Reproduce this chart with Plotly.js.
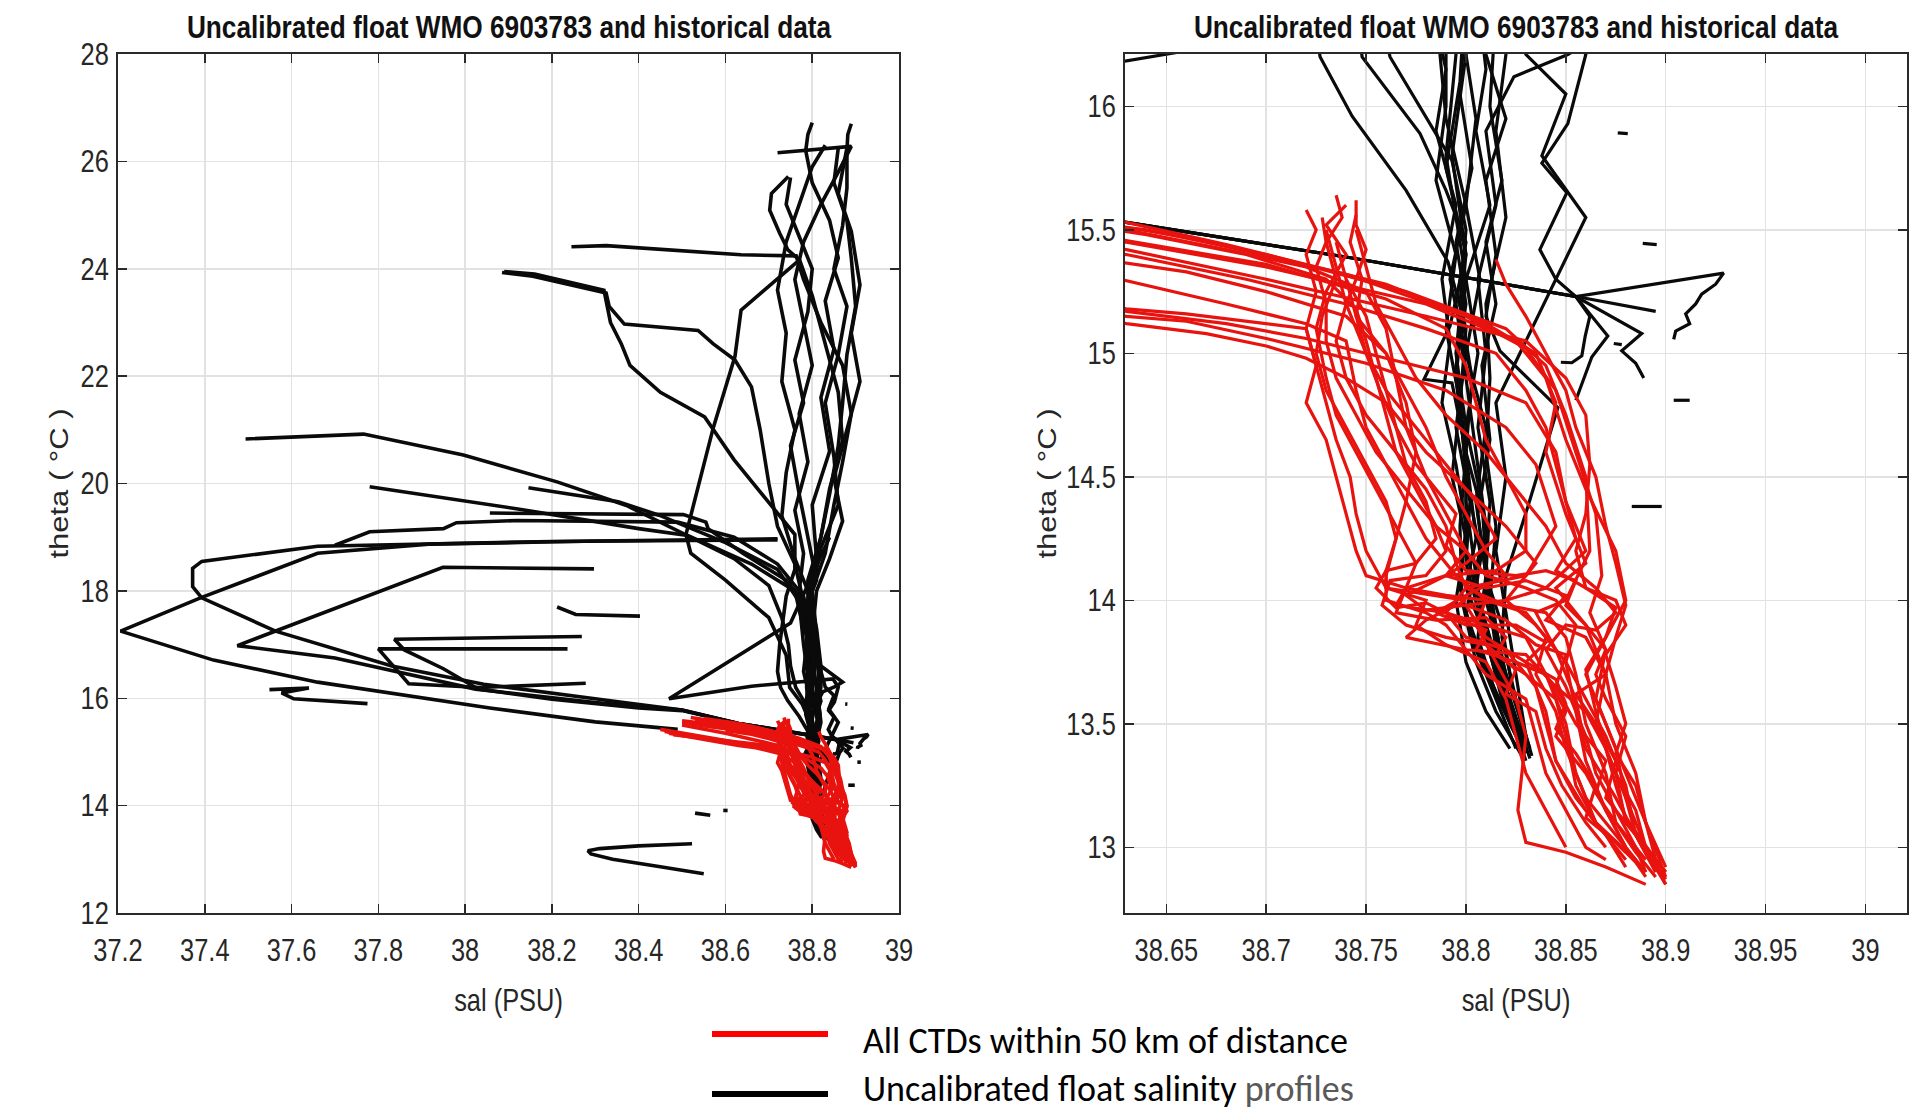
<!DOCTYPE html>
<html><head><meta charset="utf-8">
<script src="https://cdn.plot.ly/plotly-3.0.1.min.js"></script>
<style>html,body{margin:0;padding:0;background:#fff}#chart{width:1915px;height:1115px}</style>
</head><body><div id="chart"></div>
<script>
// ---------- Tick labels ----------
const leftSalTicks = [37.2,37.4,37.6,37.8,38,38.2,38.4,38.6,38.8,39];
const leftSalLabels = ['37.2','37.4','37.6','37.8','38','38.2','38.4','38.6','38.8','39'];
const leftThetaTicks = [12,14,16,18,20,22,24,26,28];
const rightSalTicks = [38.65,38.7,38.75,38.8,38.85,38.9,38.95,39];
const rightSalLabels = ['38.65','38.7','38.75','38.8','38.85','38.9','38.95','39'];
const rightThetaTicks = [13,13.5,14,14.5,15,15.5,16];
const rightThetaLabels = ['13','13.5','14','14.5','15','15.5','16'];

// ---------- Uncalibrated float profiles: [salinity, theta] ----------
const f01 = [[38.80,26.72],[38.79,26.5],[38.785,26.2],[38.80,25.6],[38.84,24.9],[38.86,24.2],[38.83,23.4],[38.85,22.5],[38.82,21.6],[38.84,20.6],[38.80,19.6],[38.81,18.6],[38.79,17.8],[38.795,17.0],[38.80,16.4],[38.797,16.05],[38.803,15.75],[38.795,15.45],[38.80,15.2],[38.795,14.95],[38.80,14.6],[38.805,14.25],[38.80,14.05],[38.81,13.85],[38.82,13.6],[38.83,13.35]];
const f02 = [[38.89,26.7],[38.882,26.5],[38.88,26.2],[38.88,25.5],[38.87,24.8],[38.85,24.0],[38.88,23.3],[38.86,22.4],[38.83,21.5],[38.85,20.5],[38.86,19.6],[38.82,18.8],[38.80,18.0],[38.81,17.2],[38.805,16.5],[38.81,16.15],[38.805,15.9],[38.812,15.6],[38.80,15.3],[38.806,15.0],[38.80,14.7],[38.808,14.4],[38.81,14.15],[38.815,13.9],[38.82,13.65],[38.832,13.36]];
const f03 = [[38.72,26.16],[38.89,26.28],[38.86,25.8],[38.82,25.2],[38.78,24.5],[38.76,23.8],[38.78,23.0],[38.80,22.2],[38.77,21.3],[38.79,20.4],[38.76,19.5],[38.78,18.7],[38.77,18.0],[38.79,17.2],[38.78,16.5],[38.79,16.15],[38.785,15.9],[38.795,15.6],[38.788,15.3],[38.792,15.05],[38.788,14.8],[38.795,14.55],[38.80,14.3],[38.797,14.05],[38.805,13.8],[38.815,13.6],[38.825,13.4]];
const f04 = [[38.745,25.72],[38.706,25.4],[38.702,25.09],[38.725,24.66],[38.744,24.35],[38.771,24.16],[38.80,23.5],[38.83,22.6],[38.86,21.7],[38.87,20.8],[38.84,19.9],[38.82,19.0],[38.79,18.2],[38.79,17.4],[38.80,16.7],[38.80,16.21],[38.793,15.8],[38.80,15.4],[38.792,15.11],[38.779,14.895],[38.793,14.88],[38.80,14.6],[38.797,14.3],[38.798,14.0],[38.805,13.75],[38.815,13.55],[38.828,13.37]];
const f05 = [[38.245,24.41],[38.325,24.43],[38.636,24.26],[38.763,24.24],[38.78,23.8],[38.82,23.0],[38.87,22.2],[38.89,21.3],[38.87,20.4],[38.85,19.6],[38.83,18.7],[38.80,18.0],[38.79,17.3],[38.80,16.6],[38.81,16.21],[38.82,15.95],[38.81,15.7],[38.815,15.4],[38.81,15.15],[38.817,15.01],[38.846,14.78],[38.831,14.38],[38.82,14.1],[38.818,13.85],[38.825,13.6],[38.83,13.42]];
const f06 = [[38.085,23.93],[38.156,23.86],[38.325,23.55],[38.332,23.3],[38.367,22.97],[38.537,22.85],[38.572,22.6],[38.622,22.3],[38.66,21.8],[38.68,21.0],[38.70,20.0],[38.72,19.2],[38.76,18.5],[38.78,17.8],[38.80,17.0],[38.79,16.5],[38.787,16.21],[38.79,15.95],[38.80,15.6],[38.792,15.3],[38.80,15.0],[38.795,14.7],[38.802,14.4],[38.80,14.15],[38.808,13.9],[38.815,13.7],[38.822,13.5],[38.83,13.38]];
const f07 = [[38.09,23.95],[38.16,23.9],[38.32,23.6],[38.335,23.0],[38.36,22.6],[38.38,22.2],[38.45,21.7],[38.552,21.24],[38.62,20.44],[38.705,19.58],[38.76,19.05],[38.76,18.4],[38.74,17.9],[38.725,17.0],[38.72,16.5],[38.727,16.2],[38.743,15.96],[38.77,15.66],[38.791,15.37],[38.80,15.1],[38.797,14.8],[38.80,14.5],[38.807,14.2],[38.80,13.95],[38.81,13.72],[38.825,13.45]];
const f08 = [[38.77,24.16],[38.636,23.23],[38.622,22.37],[38.572,21.04],[38.509,19.05],[38.52,18.7],[38.60,18.2],[38.70,17.5],[38.74,16.8],[38.745,16.4],[38.748,16.2],[38.777,15.89],[38.79,15.66],[38.80,15.45],[38.795,15.2],[38.80,14.9],[38.805,14.6],[38.81,14.3],[38.805,14.05],[38.812,13.85],[38.82,13.62],[38.83,13.4]];
const f09 = [[37.494,20.83],[37.766,20.92],[37.996,20.53],[38.212,20.03],[38.372,19.59],[38.494,19.1],[38.62,18.6],[38.70,18.1],[38.73,17.5],[38.745,17.0],[38.75,16.6],[38.762,16.2],[38.793,15.78],[38.80,15.5],[38.797,15.2],[38.803,14.9],[38.80,14.6],[38.81,14.3],[38.81,14.0],[38.817,13.78],[38.828,13.5]];
const f10 = [[37.78,19.94],[38.118,19.53],[38.4,19.16],[38.513,19.03],[38.66,18.5],[38.76,18.0],[38.78,17.3],[38.82,16.6],[38.87,16.3],[38.851,16.21],[38.824,16.12],[38.81,15.9],[38.815,15.6],[38.806,15.3],[38.81,15.0],[38.806,14.7],[38.812,14.4],[38.81,14.1],[38.818,13.9],[38.823,13.65],[38.833,13.37]];
const f11 = [[38.72,18.95],[38.2,18.92],[37.66,18.83],[37.393,18.55],[37.372,18.42],[37.372,18.08],[37.393,17.87],[37.563,17.25],[37.831,16.6],[38.043,16.26],[38.339,15.95],[38.50,15.78],[38.63,15.53],[38.74,15.39],[38.855,15.23],[38.929,15.325],[38.925,15.28],[38.918,15.24],[38.915,15.2],[38.91,15.16],[38.912,15.12],[38.905,15.09],[38.904,15.057]];
const f12 = [[38.72,18.97],[38.3,18.93],[37.916,18.87],[37.66,18.7],[37.39,17.87],[37.206,17.25],[37.42,16.71],[37.66,16.3],[38.057,15.82],[38.3,15.56],[38.49,15.42]];
const f13 = [[38.297,18.41],[37.949,18.44],[37.475,16.98],[37.7,16.75],[38.024,16.17],[38.3,15.92],[38.50,15.78],[38.63,15.53],[38.74,15.39],[38.855,15.23],[38.895,15.17]];
const f14 = [[38.269,17.15],[37.837,17.1],[37.86,16.9],[37.95,16.55],[38.03,16.17],[38.2,15.98],[38.4,15.82],[38.50,15.77],[38.63,15.53],[38.74,15.39],[38.855,15.23],[38.888,15.08],[38.878,15.01],[38.885,14.96],[38.889,14.90]];
const f15 = [[38.236,16.92],[37.80,16.92],[37.87,16.27],[38.034,16.2],[38.278,16.28]];
const f16 = [[38.84,19.0],[38.80,18.3],[38.75,17.4],[38.47,15.99],[38.62,16.17],[38.66,16.225],[38.848,16.36],[38.86,16.21],[38.851,15.93],[38.838,15.77],[38.8505,15.65],[38.837,15.42],[38.845,15.3],[38.855,15.23],[38.871,15.07],[38.863,14.985],[38.855,14.81]];
const f17 = [[38.86,26.25],[38.85,25.6],[38.88,24.9],[38.89,24.2],[38.9,23.3],[38.88,22.4],[38.87,21.5],[38.86,20.7],[38.84,19.8],[38.82,19.0],[38.80,18.3],[38.80,17.5],[38.81,16.8],[38.80,16.21],[38.805,15.95],[38.80,15.6],[38.807,15.3],[38.80,15.0],[38.81,14.7],[38.805,14.4],[38.81,14.1],[38.815,13.8],[38.825,13.5]];
const f18 = [[38.75,25.7],[38.74,25.2],[38.77,24.6],[38.80,24.0],[38.79,23.2],[38.76,22.3],[38.78,21.5],[38.75,20.7],[38.77,19.8],[38.79,19.0],[38.81,18.2],[38.78,17.6],[38.79,16.9],[38.795,16.21],[38.79,15.8],[38.80,15.3],[38.795,14.9],[38.80,14.55],[38.80,14.2],[38.808,13.95],[38.815,13.7],[38.825,13.5]];
const f19 = [[38.83,26.3],[38.80,25.9],[38.77,25.2],[38.74,24.5],[38.72,23.6],[38.74,22.8],[38.73,21.9],[38.76,21.0],[38.74,20.2],[38.73,19.4],[38.76,18.6],[38.79,18.0],[38.81,17.3],[38.82,16.6],[38.82,16.21],[38.815,15.9],[38.82,15.55],[38.81,15.2],[38.812,14.9],[38.81,14.6],[38.815,14.3],[38.812,14.0],[38.82,13.7],[38.832,13.4]];
const f20 = [[38.88,26.25],[38.86,25.4],[38.89,24.7],[38.91,23.7],[38.89,22.8],[38.91,21.9],[38.88,21.0],[38.85,20.1],[38.87,19.3],[38.84,18.6],[38.81,18.0],[38.80,17.2],[38.82,16.5],[38.83,16.21],[38.85,16.05],[38.838,15.8],[38.86,15.55],[38.845,15.3],[38.83,15.05],[38.815,14.8],[38.82,14.5],[38.815,14.2],[38.82,13.95],[38.825,13.7],[38.83,13.45]];
const f21 = [[38.146,19.92],[38.353,19.66],[38.447,19.41],[38.60,18.9],[38.72,18.4],[38.77,17.8],[38.78,17.0],[38.79,16.4],[38.79,16.0],[38.785,15.7],[38.795,15.4],[38.79,15.1],[38.797,14.8],[38.793,14.5],[38.80,14.25],[38.795,14.0],[38.80,13.75],[38.81,13.55],[38.822,13.4]];
const f22 = [[38.057,19.45],[38.503,19.42],[38.555,19.28],[38.56,19.16],[38.64,18.7],[38.74,18.2],[38.80,17.6],[38.81,16.9],[38.815,16.4],[38.812,16.0],[38.818,15.7],[38.81,15.45],[38.815,15.2],[38.808,14.95],[38.812,14.65],[38.806,14.35],[38.81,14.1],[38.806,13.85],[38.815,13.62],[38.827,13.42]];
const f23 = [[37.70,18.85],[37.78,19.1],[37.95,19.16],[37.98,19.27],[38.12,19.31],[38.49,19.28],[38.62,19.0],[38.72,18.5],[38.78,17.9],[38.80,17.2],[38.80,16.5],[38.797,16.1],[38.79,15.75],[38.80,15.4],[38.795,15.0],[38.80,14.7],[38.80,14.4],[38.805,14.1],[38.81,13.85],[38.818,13.6],[38.83,13.4]];
// short fragments and isolated points of the float data
const m01 = [[38.212,17.70],[38.226,17.66],[38.255,17.56],[38.403,17.53]];
const m02 = [[37.549,16.16],[37.64,16.19],[37.577,16.10],[37.605,15.99],[37.775,15.9]];
const m03 = [[38.523,13.29],[38.40,13.25],[38.31,13.2],[38.283,13.16],[38.29,13.1],[38.34,13.0],[38.45,12.86],[38.55,12.73]];
const m04 = [[38.53,13.86],[38.565,13.82]];
const m05 = [[38.595,13.91],[38.605,13.91]];
const m06 = [[38.876,15.893],[38.881,15.89]];
const m07 = [[38.8885,15.445],[38.8955,15.44]];
const m08 = [[38.874,15.04],[38.878,15.035]];
const m09 = [[38.904,14.81],[38.912,14.81]];
const m10 = [[38.883,14.38],[38.898,14.38]];
const m11 = [[38.8475,14.964],[38.853,14.962],[38.858,14.99],[38.8597,15.07],[38.862,15.15],[38.855,15.23]];

// ---------- CTD profiles within 50 km: [salinity, theta] ----------
const r01 = [[38.52,15.64],[38.60,15.55],[38.66,15.47],[38.74,15.32],[38.80,15.15],[38.83,15.02],[38.845,14.85],[38.855,14.6],[38.865,14.35],[38.868,14.1],[38.862,13.95],[38.87,13.8],[38.865,13.6],[38.875,13.4],[38.88,13.2],[38.89,13.0],[38.9,12.85]];
const r02 = [[38.53,15.6],[38.64,15.5],[38.70,15.4],[38.77,15.25],[38.82,15.1],[38.84,14.95],[38.85,14.75],[38.86,14.5],[38.862,14.2],[38.85,14.0],[38.835,13.95],[38.845,13.8],[38.855,13.6],[38.86,13.4],[38.875,13.2],[38.885,13.05],[38.895,12.9]];
const r03 = [[38.55,15.62],[38.63,15.53],[38.68,15.44],[38.76,15.28],[38.81,15.12],[38.835,15.0],[38.845,14.8],[38.84,14.6],[38.85,14.35],[38.86,14.15],[38.845,14.05],[38.86,13.9],[38.87,13.7],[38.865,13.5],[38.875,13.3],[38.88,13.1],[38.9,12.9]];
const r04 = [[38.50,15.55],[38.63,15.45],[38.70,15.35],[38.78,15.2],[38.825,15.05],[38.84,14.9],[38.85,14.65],[38.86,14.45],[38.875,14.2],[38.88,14.0],[38.87,13.85],[38.86,13.7],[38.87,13.5],[38.88,13.3],[38.89,13.1],[38.895,12.95]];
const r05 = [[38.45,15.42],[38.55,15.28],[38.63,15.17],[38.68,15.12],[38.72,15.06],[38.76,14.98],[38.80,14.9],[38.83,14.8],[38.845,14.6],[38.85,14.4],[38.86,14.2],[38.84,14.05],[38.82,14.0],[38.835,13.9],[38.85,13.75],[38.855,13.55],[38.86,13.35],[38.87,13.15],[38.88,13.0],[38.89,12.88]];
const r06 = [[38.46,15.38],[38.56,15.25],[38.63,15.15],[38.66,15.13],[38.70,15.06],[38.72,15.02],[38.75,14.96],[38.79,14.85],[38.82,14.7],[38.835,14.55],[38.845,14.3],[38.83,14.1],[38.80,14.05],[38.79,13.95],[38.81,13.9],[38.83,13.85],[38.84,13.7],[38.85,13.5],[38.855,13.3],[38.865,13.1],[38.885,12.95]];
const r07 = [[38.47,15.35],[38.63,15.12],[38.67,15.08],[38.70,15.03],[38.72,14.98],[38.74,14.9],[38.76,14.8],[38.78,14.6],[38.80,14.45],[38.82,14.3],[38.835,14.15],[38.82,14.0],[38.80,13.98],[38.81,13.85],[38.83,13.75],[38.84,13.55],[38.845,13.35],[38.86,13.15],[38.88,12.95]];
const r08 = [[38.735,15.64],[38.738,15.55],[38.73,15.45],[38.735,15.3],[38.728,15.15],[38.725,15.0],[38.73,14.85],[38.74,14.7],[38.75,14.55],[38.76,14.4],[38.765,14.25],[38.76,14.12],[38.76,14.0],[38.78,13.95],[38.79,13.9],[38.80,13.8],[38.81,13.7],[38.83,13.6],[38.835,13.45],[38.84,13.3],[38.85,13.15],[38.86,13.0],[38.87,12.95]];
const r09 = [[38.74,15.6],[38.73,15.52],[38.74,15.4],[38.73,15.25],[38.725,15.1],[38.73,14.9],[38.735,14.75],[38.745,14.6],[38.755,14.45],[38.765,14.3],[38.775,14.15],[38.77,14.05],[38.765,13.98],[38.79,13.95],[38.80,13.85],[38.82,13.8],[38.835,13.65],[38.84,13.5],[38.845,13.35],[38.855,13.2],[38.87,13.05],[38.88,12.92]];
const r10 = [[38.72,15.58],[38.725,15.5],[38.72,15.4],[38.725,15.25],[38.72,15.1],[38.725,14.95],[38.73,14.8],[38.735,14.65],[38.742,14.5],[38.745,14.35],[38.75,14.2],[38.76,14.05],[38.78,14.0],[38.775,13.9],[38.79,13.82],[38.81,13.75],[38.82,13.6],[38.825,13.45],[38.83,13.3],[38.84,13.15],[38.85,13.0]];
const r11 = [[38.745,15.62],[38.745,15.52],[38.75,15.42],[38.745,15.3],[38.74,15.2],[38.735,15.05],[38.74,14.9],[38.75,14.75],[38.765,14.6],[38.78,14.45],[38.79,14.3],[38.795,14.15],[38.80,14.05],[38.82,13.98],[38.84,13.95],[38.85,13.85],[38.855,13.7],[38.86,13.5],[38.87,13.3],[38.875,13.1],[38.89,12.95]];
const r12 = [[38.728,15.55],[38.73,15.45],[38.725,15.35],[38.73,15.2],[38.73,15.05],[38.735,14.9],[38.745,14.75],[38.755,14.6],[38.77,14.45],[38.785,14.3],[38.80,14.2],[38.81,14.1],[38.83,14.05],[38.845,14.0],[38.855,13.9],[38.85,13.75],[38.86,13.6],[38.87,13.45],[38.88,13.25],[38.885,13.05],[38.9,12.85]];
const r13 = [[38.48,15.32],[38.63,15.18],[38.66,15.16],[38.70,15.12],[38.72,15.1],[38.725,14.95],[38.72,14.8],[38.73,14.65],[38.735,14.5],[38.74,14.35],[38.745,14.2],[38.75,14.1],[38.77,14.05],[38.79,14.02],[38.81,14.0],[38.83,13.95],[38.84,13.85],[38.835,13.7],[38.845,13.55],[38.85,13.4],[38.86,13.2],[38.875,13.05],[38.89,12.9]];
const r14 = [[38.815,15.38],[38.82,15.28],[38.83,15.15],[38.84,15.0],[38.85,14.85],[38.855,14.7],[38.865,14.5],[38.87,14.3],[38.875,14.15],[38.88,13.98],[38.875,13.85],[38.87,13.7],[38.875,13.5],[38.885,13.3],[38.89,13.1],[38.9,12.88]];
const r15 = [[38.57,15.55],[38.63,15.5],[38.68,15.42],[38.72,15.35],[38.75,15.25],[38.76,15.1],[38.765,14.9],[38.77,14.7],[38.78,14.5],[38.79,14.35],[38.80,14.2],[38.79,14.1],[38.77,14.05],[38.765,13.95],[38.785,13.92],[38.81,13.93],[38.82,13.85],[38.815,13.78],[38.83,13.7],[38.845,13.6],[38.85,13.45],[38.855,13.25],[38.865,13.1],[38.88,12.98]];
const r16 = [[38.56,15.58],[38.64,15.48],[38.69,15.4],[38.73,15.3],[38.745,15.18],[38.75,15.05],[38.755,14.9],[38.76,14.75],[38.765,14.6],[38.775,14.45],[38.785,14.3],[38.79,14.2],[38.78,14.1],[38.762,14.08],[38.758,13.98],[38.77,13.9],[38.79,13.85],[38.81,13.82],[38.825,13.72],[38.82,13.62],[38.835,13.55],[38.84,13.4],[38.848,13.25],[38.86,13.1],[38.87,13.0]];
const r17 = [[38.50,15.5],[38.60,15.35],[38.68,15.2],[38.72,15.12],[38.74,15.05],[38.745,14.85],[38.75,14.7],[38.76,14.55],[38.77,14.4],[38.78,14.25],[38.795,14.1],[38.81,14.0],[38.805,13.9],[38.815,13.75],[38.825,13.6],[38.83,13.45],[38.828,13.3],[38.826,13.15],[38.83,13.02],[38.85,12.98],[38.87,12.92],[38.89,12.85]];
const r18 = [[38.54,15.5],[38.63,15.42],[38.70,15.3],[38.78,15.15],[38.83,15.05],[38.85,14.9],[38.86,14.75],[38.862,14.55],[38.86,14.35],[38.855,14.2],[38.86,14.05],[38.875,13.97],[38.87,13.85],[38.86,13.72],[38.865,13.55],[38.87,13.4],[38.875,13.25],[38.88,13.12],[38.895,12.95]];
const r19 = [[38.60,15.4],[38.66,15.33],[38.70,15.25],[38.74,15.15],[38.76,15.0],[38.77,14.8],[38.775,14.6],[38.77,14.4],[38.765,14.25],[38.76,14.1],[38.76,14.05],[38.80,14.0],[38.78,13.92],[38.77,13.85],[38.80,13.8],[38.83,13.78],[38.845,13.65],[38.86,13.55],[38.87,13.4],[38.88,13.2],[38.885,13.05],[38.90,12.9]];
const r20 = [[38.745,15.5],[38.75,15.35],[38.755,15.2],[38.765,15.05],[38.775,14.9],[38.79,14.75],[38.81,14.6],[38.825,14.45],[38.84,14.3],[38.85,14.15],[38.865,14.05],[38.875,13.95],[38.865,13.88],[38.85,13.9],[38.84,13.8],[38.85,13.65],[38.86,13.45],[38.865,13.3],[38.875,13.15],[38.885,13.0],[38.89,12.9]];
const r21 = [[38.73,15.5],[38.735,15.35],[38.74,15.2],[38.75,15.0],[38.76,14.85],[38.775,14.7],[38.79,14.55],[38.805,14.4],[38.815,14.25],[38.80,14.15],[38.79,14.1],[38.81,14.05],[38.83,14.08],[38.85,14.02],[38.84,13.92],[38.86,13.85],[38.87,13.7],[38.855,13.62],[38.865,13.5],[38.875,13.35],[38.87,13.2],[38.885,13.05],[38.895,12.9]];
const r22 = [[38.50,15.58],[38.62,15.47],[38.70,15.36],[38.76,15.22],[38.79,15.1],[38.80,14.95],[38.805,14.8],[38.81,14.65],[38.82,14.5],[38.83,14.35],[38.83,14.2],[38.815,14.12],[38.79,14.1],[38.77,14.02],[38.78,13.96],[38.80,13.98],[38.82,13.92],[38.835,13.82],[38.85,13.78],[38.845,13.65],[38.855,13.5],[38.87,13.35],[38.865,13.22],[38.875,13.1],[38.885,12.98],[38.895,12.88]];
const r23 = [[38.735,15.45],[38.74,15.3],[38.75,15.15],[38.755,15.0],[38.76,14.85],[38.765,14.7],[38.77,14.55],[38.78,14.4],[38.785,14.25],[38.775,14.15],[38.76,14.12],[38.755,14.05],[38.765,13.97],[38.78,13.99],[38.795,13.93],[38.81,13.88],[38.805,13.8],[38.825,13.75],[38.84,13.7],[38.85,13.55],[38.845,13.45],[38.86,13.3],[38.87,13.15],[38.88,13.0]];
const r24 = [[38.52,15.52],[38.63,15.4],[38.69,15.3],[38.74,15.2],[38.78,15.1],[38.815,15.0],[38.83,14.85],[38.84,14.7],[38.845,14.55],[38.85,14.4],[38.855,14.25],[38.845,14.12],[38.86,14.05],[38.875,14.0],[38.88,13.9],[38.87,13.78],[38.875,13.65],[38.88,13.5],[38.875,13.38],[38.885,13.25],[38.89,13.1],[38.9,12.92]];
const r25 = [[38.74,15.3],[38.745,15.15],[38.76,15.0],[38.77,14.85],[38.78,14.7],[38.79,14.5],[38.80,14.35],[38.81,14.2],[38.82,14.1],[38.80,14.02],[38.785,13.95],[38.80,13.9],[38.825,13.9],[38.84,13.83],[38.83,13.75],[38.845,13.68],[38.85,13.58],[38.845,13.48],[38.855,13.38],[38.865,13.25],[38.86,13.12],[38.875,13.02],[38.89,12.9]];
const r26 = [[38.745,15.56],[38.742,15.45],[38.748,15.3],[38.745,15.15],[38.75,15.0],[38.757,14.85],[38.765,14.7],[38.775,14.55],[38.785,14.45],[38.795,14.35],[38.79,14.22],[38.80,14.12],[38.825,14.1],[38.84,14.12],[38.855,14.08],[38.85,13.98],[38.86,13.9],[38.87,13.8],[38.865,13.7],[38.87,13.6],[38.88,13.45],[38.875,13.3],[38.885,13.15],[38.89,13.0],[38.9,12.87]];

const floatProfiles = [f01,f02,f03,f04,f05,f06,f07,f08,f09,f10,f11,f12,f13,f14,f15,f16,f17,f18,f19,f20,f21,f22,f23,m01,m02,m03,m04,m05,m06,m07,m08,m09,m10,m11];
const ctdProfiles = [r01,r02,r03,r04,r05,r06,r07,r08,r09,r10,r11,r12,r13,r14,r15,r16,r17,r18,r19,r20,r21,r22,r23,r24,r25,r26];

const titleText = 'Uncalibrated float WMO 6903783 and historical data';
const legendCtd = 'All CTDs within 50 km of distance';
const legendFloat = 'Uncalibrated float salinity <span style="color:#595959">profiles</span>';

// ---------- build ----------
function toXY(profiles){
  const x=[], y=[];
  profiles.forEach(p => { p.forEach(pt => { x.push(pt[0]); y.push(pt[1]); }); x.push(null); y.push(null); });
  return {x, y};
}
const fl = toXY(floatProfiles);
const ct = toXY(ctdProfiles);
const BLACK = '#0a0a0a', RED = '#e8130f';
const traces = [];
[['x','y',3.6],['x2','y2',3.2]].forEach(([xa,ya,w]) => {
  traces.push({type:'scatter', mode:'lines', x:fl.x, y:fl.y, xaxis:xa, yaxis:ya, connectgaps:false,
    line:{color:BLACK, width:w}, hoverinfo:'skip', showlegend:false});
  traces.push({type:'scatter', mode:'lines', x:ct.x, y:ct.y, xaxis:xa, yaxis:ya, connectgaps:false,
    line:{color:RED, width:w}, hoverinfo:'skip', showlegend:false});
});

const SANS = '"Liberation Sans", Arial, Helvetica, sans-serif';
const tickFont = {family:SANS, size:31, color:'#262626'};
const common = {
  showgrid:true, gridcolor:'#e2e2e2', gridwidth:1.5, zeroline:false,
  showline:true, linecolor:'#2a2a2a', linewidth:2, mirror:'ticks',
  ticks:'inside', ticklen:9, tickwidth:1.5, tickcolor:'#2a2a2a',
  tickfont:tickFont, automargin:false, fixedrange:true
};
const xTitle = {text:'sal (PSU)', font:{family:SANS, size:31, color:'#262626'}, standoff:22};
const yTitle = {text:'theta ( °C )', font:{family:SANS, size:31, color:'#262626'}, standoff:0};

const layout = {
  width:1915, height:1115,
  margin:{l:118, r:8, t:54, b:202},
  paper_bgcolor:'#fff', plot_bgcolor:'#fff',
  showlegend:false,
  xaxis:Object.assign({}, common, {domain:[0,0.43656], range:[37.2,39], tickmode:'array', tickvals:leftSalTicks, ticktext:leftSalLabels, ticklabelstandoff:9, title:xTitle, anchor:'y'}),
  yaxis:Object.assign({}, common, {domain:[0,1], range:[12,28], tickmode:'array', tickvals:leftThetaTicks, ticklabelstandoff:1, title:yTitle, anchor:'x'}),
  xaxis2:Object.assign({}, common, {domain:[0.56289,1], range:[38.6293,39.0208], tickmode:'array', tickvals:rightSalTicks, ticktext:rightSalLabels, ticklabelstandoff:9, title:xTitle, anchor:'y2'}),
  yaxis2:Object.assign({}, common, {domain:[0,1], range:[12.734,16.212], tickmode:'array', tickvals:rightThetaTicks, ticktext:rightThetaLabels, ticklabelstandoff:1, title:yTitle, anchor:'x2'}),
  annotations:[
    {text:titleText, xref:'paper', yref:'paper', x:0.2183, y:1.0314, xanchor:'center', yanchor:'middle', showarrow:false,
     font:{family:SANS, size:32, color:'#111', weight:'bold'}},
    {text:titleText, xref:'paper', yref:'paper', x:0.7814, y:1.0314, xanchor:'center', yanchor:'middle', showarrow:false,
     font:{family:SANS, size:32, color:'#111', weight:'bold'}},
    {text:legendCtd, xref:'paper', yref:'paper', x:0.4153, y:(913-1041)/859, xanchor:'left', yanchor:'middle', showarrow:false,
     font:{family:'Carlito, Lato, "Open Sans", sans-serif', size:36, color:'#000'}},
    {text:legendFloat, xref:'paper', yref:'paper', x:0.4153, y:(913-1089)/859, xanchor:'left', yanchor:'middle', showarrow:false,
     font:{family:'Carlito, Lato, "Open Sans", sans-serif', size:36, color:'#000'}}
  ],
  shapes:[
    {type:'line', xref:'paper', yref:'paper', x0:(712-118)/1789, x1:(828-118)/1789, y0:(913-1034)/859, y1:(913-1034)/859, line:{color:'#ff0000', width:6}},
    {type:'line', xref:'paper', yref:'paper', x0:(712-118)/1789, x1:(828-118)/1789, y0:(913-1094)/859, y1:(913-1094)/859, line:{color:'#000', width:6}}
  ]
};

// The source figure was exported horizontally compressed: mimic it by narrowing the text glyphs.
const SQUISH = 0.82;
function squish(el, mode){
  const bb = el.getBBox();
  const cx = mode === 'right' ? bb.x + bb.width : bb.x + bb.width / 2;
  const t = el.getAttribute('transform') || '';
  el.setAttribute('transform', t + ' translate(' + cx + ',0) scale(' + SQUISH + ',1) translate(' + (-cx) + ',0)');
}
function squishRotated(el, dx){
  const X = parseFloat(el.getAttribute('x')) || 0;
  const t = el.getAttribute('transform') || '';
  el.setAttribute('transform', 'translate(' + dx + ',0) translate(' + X + ',0) scale(' + SQUISH + ',1) translate(' + (-X) + ',0) ' + t);
}

Plotly.newPlot('chart', traces, layout, {staticPlot:true, displayModeBar:false}).then(gd => {
  gd.querySelectorAll('g.xtick text, g.x2tick text').forEach(el => squish(el, 'center'));
  gd.querySelectorAll('g.ytick text, g.y2tick text').forEach(el => squish(el, 'right'));
  gd.querySelectorAll('text.xtitle, text.x2title').forEach(el => squish(el, 'center'));
  const ann = gd.querySelectorAll('g.annotation text.annotation-text');
  if (ann[0]) squish(ann[0], 'center');
  if (ann[1]) squish(ann[1], 'center');
  gd.querySelectorAll('text.ytitle').forEach(el => squishRotated(el, 4));
  gd.querySelectorAll('text.y2title').forEach(el => squishRotated(el, 10));
});
</script></body></html>
